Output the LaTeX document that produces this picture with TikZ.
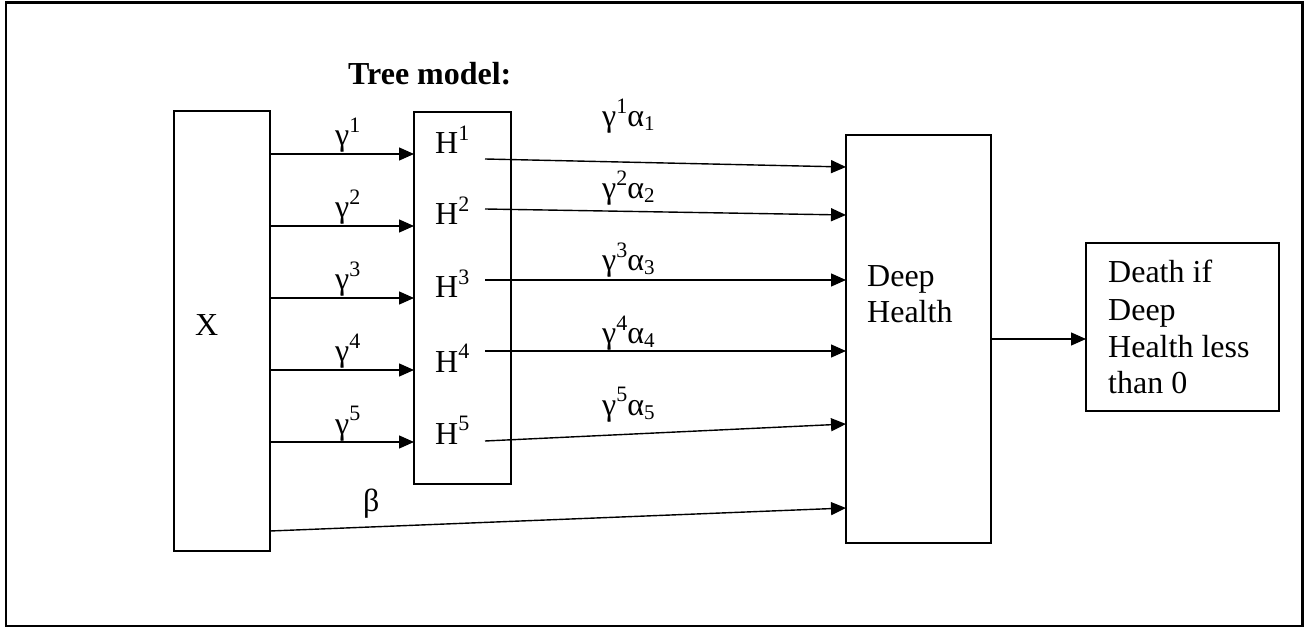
\documentclass[tikz,border=0pt]{standalone}
\usepackage{fontspec}
\setmainfont{Liberation Serif}
\usetikzlibrary{arrows.meta}
% raised / lowered indices in the running text size
\newcommand{\supx}[1]{\raisebox{13.5pt}{\fontsize{22}{22}\selectfont #1}}
\newcommand{\subx}[1]{\raisebox{-4pt}{\fontsize{21}{21}\selectfont #1}}

\begin{document}
\begin{tikzpicture}[x=1pt,y=-1pt,
  box/.style={draw, line width=1.4pt, rectangle, inner sep=0pt, outer sep=0pt},
  lbl/.style={anchor=base west, inner sep=0pt, font=\fontsize{32}{36}\selectfont},
  arr/.style={line width=1.4pt, -{Triangle[length=15pt,width=13pt]}}]

\useasboundingbox (0,0) rectangle (1312,628);

% outer frame
\draw[line width=2.5pt] (6,2.5) rectangle (1302.5,626);

% main blocks
\node[box, minimum width=96pt,  minimum height=440pt] (X)  at (222,331) {};
\node[box, minimum width=97pt,  minimum height=372pt] (H)  at (462.5,298) {};
\node[box, minimum width=145pt, minimum height=408pt] (DH) at (918.5,339) {};
\node[box, minimum width=193pt, minimum height=168pt] (D)  at (1182.5,327) {};

% block texts
\node[lbl] (title) at (348,85) {\textbf{Tree model:}};
\node[lbl] (xlab)  at (195,336) {X};
\node[lbl] (dh1)   at (867,287) {Deep};
\node[lbl] (dh2)   at (867,323) {Health};
\node[lbl] (d1)    at (1108,283) {Death if};
\node[lbl] (d2)    at (1108,320) {Deep};
\node[lbl] (d3)    at (1108,357) {Health less};
\node[lbl] (d4)    at (1108,393) {than 0};

% the five latent paths X -> H^i -> Deep Health
\foreach \i/\ya/\yg/\yh/\ys/\ye/\yl in
  {1/154/146/154/159/167/127,
   2/226/218/225/209/215/199,
   3/298/290/298/280/280/271,
   4/370/362/372/351/351/344,
   5/442/434/444/441/424/415}{
  \draw[arr] (X.east |- 0,\ya) -- (H.west |- 0,\ya);
  \node[lbl] (g\i) at (335,\yg) {γ\supx{\i}};
  \node[lbl] (h\i) at (435,\yh) {H\supx{\i}};
  \coordinate (o\i) at (485,\ys);
  \draw[arr] (o\i) -- (DH.west |- 0,\ye);
  \node[lbl] (ga\i) at (602,\yl) {γ\supx{\i}α\subx{\i}};
}

% direct effect
\draw[arr] (X.east |- 0,531) -- (DH.west |- 0,508);
\node[lbl] (beta) at (363,511) {β};

% outcome
\draw[arr] (DH.east) -- (D.west |- DH.east);

\end{tikzpicture}
\end{document}
